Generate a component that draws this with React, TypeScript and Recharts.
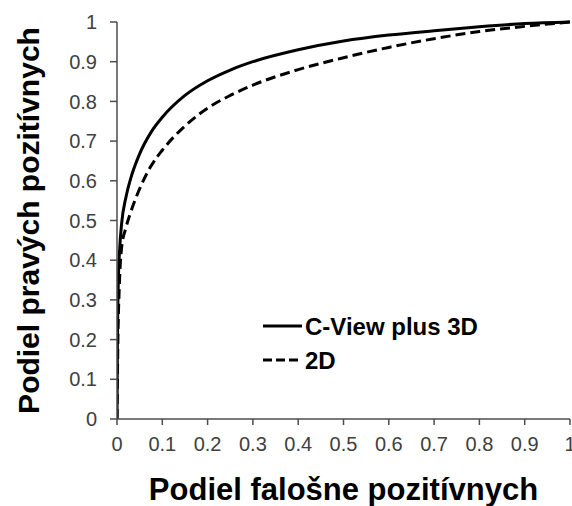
import React from "react";
import { Label, Legend, Line, LineChart, XAxis, YAxis } from "recharts";

const axisTicks = [0, 0.1, 0.2, 0.3, 0.4, 0.5, 0.6, 0.7, 0.8, 0.9, 1];

// C-View plus 3D (solid)
const cviewFpr = [0, 0.001, 0.003, 0.006, 0.01, 0.02, 0.03, 0.05, 0.075, 0.1, 0.15, 0.2, 0.25, 0.3, 0.4, 0.5, 0.6, 0.7, 0.8, 0.9, 1];
const cviewTpr = [0, 0.2, 0.35, 0.43, 0.49, 0.56, 0.605, 0.668, 0.722, 0.76, 0.815, 0.852, 0.879, 0.9, 0.93, 0.952, 0.967, 0.978, 0.988, 0.996, 1];

// 2D (dashed)
const twoDFpr = [0, 0.002, 0.005, 0.01, 0.02, 0.03, 0.05, 0.075, 0.1, 0.15, 0.2, 0.25, 0.3, 0.4, 0.5, 0.6, 0.7, 0.8, 0.9, 1];
const twoDTpr = [0, 0.2, 0.33, 0.43, 0.483, 0.52, 0.58, 0.637, 0.677, 0.738, 0.783, 0.815, 0.841, 0.88, 0.91, 0.936, 0.958, 0.976, 0.989, 1];

const toPoints = (xs: number[], ys: number[]) => xs.map((x, i) => ({ fpr: x, tpr: ys[i] }));

const series = [
  { name: "C-View plus 3D", data: toPoints(cviewFpr, cviewTpr), dash: undefined as string | undefined },
  { name: "2D", data: toPoints(twoDFpr, twoDTpr), dash: "10 5" },
];

const FONT = '"Liberation Sans", Arial, sans-serif';

function LegendBox() {
  return (
    <svg width={240} height={70} style={{ display: "block" }}>
      {series.map((s, i) => (
        <g key={s.name}>
          <line x1={0} x2={39} y1={16 + i * 34} y2={16 + i * 34} stroke="#000" strokeWidth={3} strokeDasharray={s.dash ? "9 4" : undefined} />
          <text x={42} y={16 + i * 34} dominantBaseline="central" fontFamily={FONT} fontWeight="bold" fontSize={24} fill="#000">
            {s.name}
          </text>
        </g>
      ))}
    </svg>
  );
}

export default function App() {
  return (
    <div style={{ position: "absolute", left: 8, top: 8 }}>
      <LineChart width={564} height={498} margin={{ top: 14, right: 2, left: 0, bottom: 0 }}>
        <XAxis
          dataKey="fpr"
          type="number"
          domain={[0, 1]}
          ticks={axisTicks}
          interval={0}
          height={87}
          stroke="#4d4d4d"
          strokeWidth={1.5}
          tickSize={6}
          tickMargin={12}
          tick={{ fill: "#404040", fontSize: 20, fontFamily: FONT }}
          allowDataOverflow
        >
          <Label
            content={({ viewBox }: any) => (
              <text
                x={viewBox.x + viewBox.width / 2}
                y={viewBox.y + 81}
                textAnchor="middle"
                fontFamily={FONT}
                fontWeight="bold"
                fontSize={31}
                fill="#000"
              >
                Podiel falošne pozitívnych
              </text>
            )}
          />
        </XAxis>
        <YAxis
          type="number"
          domain={[0, 1]}
          ticks={axisTicks}
          interval={0}
          width={109}
          stroke="#4d4d4d"
          strokeWidth={1.5}
          tickSize={7}
          tickMargin={13}
          tick={{ fill: "#404040", fontSize: 20, fontFamily: FONT }}
        >
          <Label
            content={({ viewBox }: any) => {
              const cx = 20;
              const cy = viewBox.y + viewBox.height / 2;
              return (
                <text
                  x={cx}
                  y={cy}
                  transform={`rotate(-90 ${cx} ${cy})`}
                  textAnchor="middle"
                  dominantBaseline="central"
                  fontFamily={FONT}
                  fontWeight="bold"
                  fontSize={30}
                  fill="#000"
                >
                  Podiel pravých pozitívnych
                </text>
              );
            }}
          />
        </YAxis>
        <Legend
          layout="vertical"
          align="center"
          verticalAlign="middle"
          content={() => <LegendBox />}
          wrapperStyle={{ position: "absolute", left: 255, top: 302, width: 240, height: 70 }}
        />
        {series.map((s) => (
          <Line
            key={s.name}
            data={s.data}
            dataKey="tpr"
            name={s.name}
            type="monotone"
            stroke="#000"
            strokeWidth={3}
            strokeDasharray={s.dash}
            dot={false}
            activeDot={false}
            isAnimationActive={false}
          />
        ))}
      </LineChart>
    </div>
  );
}
